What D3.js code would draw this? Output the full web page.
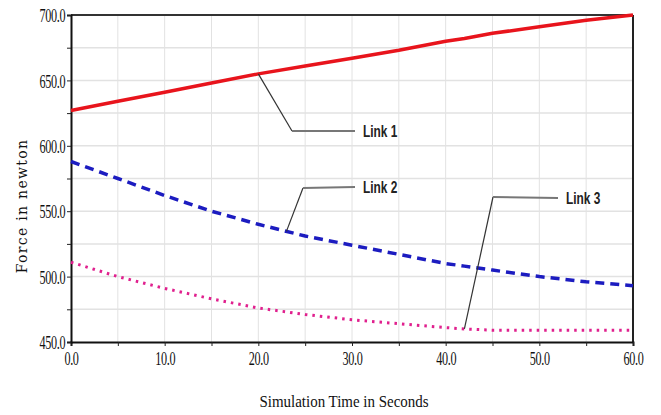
<!DOCTYPE html>
<html>
<head>
<meta charset="utf-8">
<script src="https://cdn.jsdelivr.net/npm/d3@7"></script>
<style>
    body { margin: 0; background: #fff; }
    svg { display: block; }
    .tick text { font-family: "Liberation Serif", serif; font-size: 19px; fill: #111; }
</style>
</head>
<body>
<script>
// simulation time (s)
const times = [0, 5, 10, 15, 20, 25, 30, 35, 40, 42, 45, 50, 55, 60];
// force in newton for each link
const link1 = [627, 634, 641, 648, 655, 661, 667, 673, 680, 682, 686, 691, 696, 700];
const link2 = [588, 575, 562, 550, 540, 531, 524, 517, 510, 508, 505, 500, 496, 493];
const link3 = [511, 500, 491, 483, 476, 471, 467, 464, 461, 460, 459, 459, 459, 459];

const xTicks = [0, 10, 20, 30, 40, 50, 60];
const yTicks = [450, 500, 550, 600, 650, 700];

// annotation: label, anchor time on its series, corner and end of the leader
const notes = [
    { label: "Link 1", t: 20, s: link1, corner: [292, 131], end: [355, 131] },
    { label: "Link 2", t: 23, s: link2, corner: [303, 188], end: [355, 187] },
    { label: "Link 3", t: 42, s: link3, corner: [493, 197], end: [558, 198] }
];

const W = 661, H = 415;
const margin = { left: 71, right: 28, top: 15, bottom: 73 };

const svg = d3.select("body").append("svg")
    .attr("width", W)
    .attr("height", H);

const x = d3.scaleLinear().domain([0, 60]).range([margin.left, W - margin.right]);
const y = d3.scaleLinear().domain([450, 700]).range([H - margin.bottom, margin.top]);

// grid
svg.append("g")
    .selectAll("line")
    .data(d3.range(5, 60, 5))
    .enter().append("line")
    .attr("x1", d => x(d)).attr("x2", d => x(d))
    .attr("y1", y(700)).attr("y2", y(450))
    .attr("stroke", "#e2e2e2").attr("stroke-width", 1);

svg.append("g")
    .selectAll("line")
    .data(d3.range(475, 700, 25))
    .enter().append("line")
    .attr("x1", x(0)).attr("x2", x(60))
    .attr("y1", d => y(d)).attr("y2", d => y(d))
    .attr("stroke", "#e2e2e2").attr("stroke-width", 1.5);

// frame top/right
svg.append("line")
    .attr("x1", x(0)).attr("x2", x(60))
    .attr("y1", y(700)).attr("y2", y(700))
    .attr("stroke", "#333").attr("stroke-width", 2);
svg.append("line")
    .attr("x1", x(60)).attr("x2", x(60))
    .attr("y1", y(700)).attr("y2", y(450))
    .attr("stroke", "#222").attr("stroke-width", 2);

// axes
const xAxis = svg.append("g")
    .attr("transform", `translate(0,${y(450)})`)
    .call(d3.axisBottom(x).tickValues(d3.range(0, 61, 5)).tickSize(4)
        .tickFormat(d => xTicks.includes(d) ? d.toFixed(1) : ""));
xAxis.selectAll("text").attr("y", 7).attr("dy", "0.85em");

const yAxis = svg.append("g")
    .attr("transform", `translate(${x(0)},0)`)
    .call(d3.axisLeft(y).tickValues(d3.range(450, 701, 25)).tickSize(4)
        .tickFormat(d => yTicks.includes(d) ? d.toFixed(1) : ""));
yAxis.selectAll("text").attr("dy", "0.35em").attr("x", -9);

[xAxis, yAxis].forEach(a => {
    a.select(".domain").attr("stroke", "#111").attr("stroke-width", 2);
    a.selectAll(".tick line").attr("stroke", "#222");
    a.selectAll("text").attr("transform", "scale(0.64,1)").style("letter-spacing", "-0.5px");
});

// series
const line = d3.line()
    .x((d, i) => x(times[i]))
    .y(d => y(d));

svg.append("path").datum(link1)
    .attr("fill", "none").attr("stroke", "#e8141c")
    .attr("stroke-width", 3.5).attr("d", line);

svg.append("path").datum(link2)
    .attr("fill", "none").attr("stroke", "#1c1cc0")
    .attr("stroke-width", 3.5).attr("stroke-dasharray", "9,6").attr("d", line);

svg.append("path").datum(link3)
    .attr("fill", "none").attr("stroke", "#e0208e")
    .attr("stroke-width", 3).attr("stroke-dasharray", "2.5,5").attr("d", line);

// annotations
function valueAt(s, t) {
    return d3.scaleLinear().domain(times).range(s)(t);
}

notes.forEach(n => {
    const ax = x(n.t), ay = y(valueAt(n.s, n.t));
    svg.append("line")
        .attr("x1", ax).attr("y1", ay)
        .attr("x2", n.corner[0]).attr("y2", n.corner[1])
        .attr("stroke", "#333").attr("stroke-width", 1.2);
    svg.append("line")
        .attr("x1", n.corner[0]).attr("y1", n.corner[1])
        .attr("x2", n.end[0]).attr("y2", n.end[1])
        .attr("stroke", "#777").attr("stroke-width", 2);
    svg.append("text")
        .attr("transform", `translate(${n.end[0] + 8},${n.end[1] + 6}) scale(0.7,1)`)
        .attr("font-family", "Liberation Sans, Arial, sans-serif")
        .attr("font-weight", "bold")
        .attr("font-size", 17)
        .attr("fill", "#222")
        .text(n.label);
});

// axis titles
svg.append("text")
    .attr("transform", `translate(${(x(0) + x(60)) / 2 - 8},407) scale(0.88,1)`)
    .attr("text-anchor", "middle")
    .attr("font-family", "Liberation Serif, serif")
    .attr("font-size", 17)
    .attr("fill", "#111")
    .text("Simulation Time in Seconds");

svg.append("text")
    .attr("transform", `translate(27,206) rotate(-90)`)
    .attr("text-anchor", "middle")
    .attr("font-family", "DejaVu Serif, serif")
    .attr("font-size", 14)
    .attr("fill", "#111")
    .style("letter-spacing", "1.3px")
    .text("Force in newton");
</script>
</body>
</html>
